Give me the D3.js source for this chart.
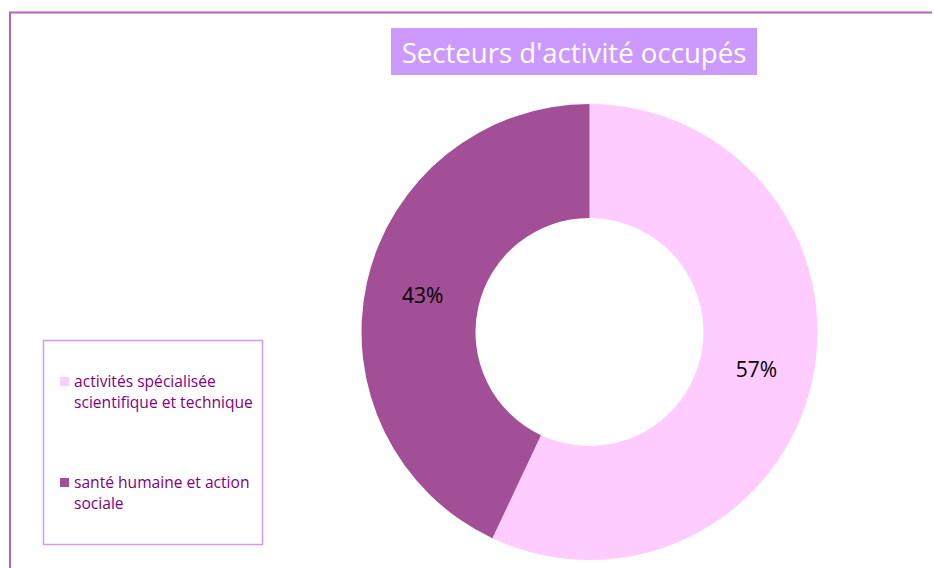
<!DOCTYPE html>
<html>
<head>
<meta charset="utf-8">
<script src="https://cdn.jsdelivr.net/npm/d3@7"></script>
<style>
  body { margin: 0; background: #fff; }
  svg { display: block; font-family: "Open Sans", Lato, sans-serif; }
</style>
</head>
<body>
<div id="chart"></div>
<script>
// data
const sectors = ["activités spécialisée scientifique et technique", "santé humaine et action sociale"];
const shares = [57, 43];
const legendLines = [["activités spécialisée", "scientifique et technique"], ["santé humaine et action", "sociale"]];
const colors = ["#ffccff", "#a34f97"];

const width = 934, height = 568;
const cx = 589.5, cy = 332, outerR = 228, innerR = 114;

const svg = d3.select("#chart")
  .append("svg")
  .attr("width", width)
  .attr("height", height);

// frame lines (top and left)
svg.append("path")
  .attr("d", `M10,${height} L10,12.5 L932,12.5`)
  .attr("fill", "none")
  .attr("stroke", "#b565b5")
  .attr("stroke-width", 2);

// title
svg.append("rect")
  .attr("x", 391).attr("y", 28)
  .attr("width", 366).attr("height", 47)
  .attr("fill", "#cc99ff");

svg.append("text")
  .attr("x", 574).attr("y", 52)
  .attr("text-anchor", "middle")
  .attr("dominant-baseline", "central")
  .attr("fill", "#fff")
  .attr("font-size", 27.6)
  .text("Secteurs d'activité occupés");

// donut
const pie = d3.pie().sort(null).value(d => d);
const arc = d3.arc().innerRadius(innerR).outerRadius(outerR);

const g = svg.append("g").attr("transform", `translate(${cx},${cy})`);

const slices = g.selectAll("g.slice")
  .data(pie(shares))
  .enter()
  .append("g")
  .attr("class", "slice");

slices.append("path")
  .attr("d", arc)
  .attr("fill", (d, i) => colors[i]);

slices.append("text")
  .attr("transform", d => `translate(${arc.centroid(d)})`)
  .attr("text-anchor", "middle")
  .attr("dominant-baseline", "central")
  .attr("font-size", 21)
  .attr("fill", "#000")
  .text(d => d.data + "%");

// legend
svg.append("rect")
  .attr("x", 43.5).attr("y", 340.5)
  .attr("width", 219).attr("height", 204)
  .attr("fill", "#fff")
  .attr("stroke", "#cc99ff")
  .attr("stroke-width", 1.5);

const legendTop = [377, 478];
const legend = svg.selectAll("g.leg")
  .data(sectors)
  .enter()
  .append("g")
  .attr("class", "leg")
  .attr("transform", (d, i) => `translate(60,${legendTop[i]})`);

legend.append("rect")
  .attr("width", 9).attr("height", 9)
  .attr("fill", (d, i) => colors[i]);

legend.append("text")
  .attr("x", 14)
  .attr("fill", "#800080")
  .attr("font-size", 15.6)
  .selectAll("tspan")
  .data((d, i) => legendLines[i])
  .enter()
  .append("tspan")
  .attr("x", 14)
  .attr("y", (d, j) => 10 + j * 21)
  .text(d => d);
</script>
</body>
</html>
